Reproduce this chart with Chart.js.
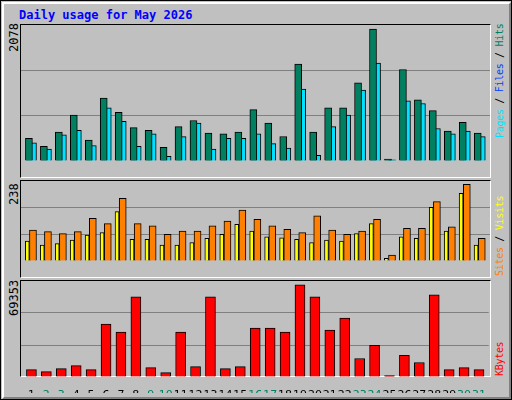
<!DOCTYPE html>
<html><head><meta charset="utf-8">
<script src="https://cdn.jsdelivr.net/npm/chart.js@4"></script>
<style>
html,body{margin:0;padding:0;background:#fff;}
#frame{position:absolute;left:0;top:0;width:510px;height:398px;background:#c0c0c0;border:1px solid #000;}
#bev{position:absolute;left:1px;top:1px;width:505px;height:393px;border-left:2px solid #fff;border-top:2px solid #fff;border-right:2px solid #808080;border-bottom:2px solid #808080;}
.panel{position:absolute;left:20px;width:469px;border-top:1px solid #000;border-left:1px solid #000;border-right:1px solid #fff;border-bottom:1px solid #fff;}
canvas{position:absolute;}
.t{position:absolute;white-space:nowrap;font-family:"DejaVu Sans Mono",monospace;font-size:12px;}
.v{transform-origin:0 0;transform:rotate(-90deg);}
.r{font-size:10px;letter-spacing:-0.3px;}
</style></head><body>
<div id="frame"><div id="bev"></div></div>
<div class="t" style="left:19px;top:8px;color:#0000ff;font-weight:bold;font-size:12px;">Daily usage for May 2026</div>
<div class="panel" style="top:24px;height:152px;"></div>
<div class="panel" style="top:180px;height:96px;"></div>
<div class="panel" style="top:280px;height:95px;"></div>
<canvas id="c1" width="469" height="152" style="left:21px;top:25px;"></canvas>
<canvas id="c2" width="469" height="96" style="left:21px;top:181px;"></canvas>
<canvas id="c3" width="469" height="112" style="left:21px;top:281px;"></canvas>
<div class="t v" style="left:7px;top:52px;">2078</div>
<div class="t v" style="left:7px;top:205px;">238</div>
<div class="t v" style="left:7px;top:316px;">69353</div>
<div class="t v r" style="left:494px;top:138px;"><span style="color:#00e0ff">Pages</span> / <span style="color:#0040ff">Files</span> / <span style="color:#008060">Hits</span></div>
<div class="t v r" style="left:494px;top:276px;"><span style="color:#ff8000">Sites</span> / <span style="color:#ffff00">Visits</span></div>
<div class="t v r" style="left:494px;top:376px;color:#ff0000">KBytes</div>
<script>
const days=[1,2,3,4,5,6,7,8,9,10,11,12,13,14,15,16,17,18,19,20,21,22,23,24,25,26,27,28,29,30,31];
const weekend=[2,3,9,10,16,17,23,24,30,31];
const hits=[357,230,456,724,329,992,766,527,484,216,541,639,442,428,456,809,597,386,1528,456,837,837,1232,2078,30,1443,964,794,470,611,442];
const files=[287,188,414,484,244,837,625,230,428,75,385,597,188,357,357,428,273,202,1133,89,541,724,1119,1542,19,950,907,512,428,470,385];
const pages=[75,61,61,75,103,174,132,216,75,61,160,47,244,61,103,103,188,160,160,230,75,202,61,75,0,75,61,230,61,89,47];
const sites=[62,49,54,65,80,88,153,67,67,49,49,57,70,83,114,93,75,72,67,57,65,62,85,116,8,75,70,166,93,210,49];
const visits=[96,91,85,91,132,116,194,116,109,83,93,93,109,124,158,129,109,98,88,140,96,83,93,129,18,101,101,184,106,238,70];
const kbytes=[5568,4050,6328,8605,5568,39737,33662,60238,7087,3290,33662,7846,60238,6328,7846,36700,36700,33662,69353,60238,35181,44293,13921,23791,1000,16198,10883,61756,5568,7087,5568];
const maxHits=2144, maxVisits=248, maxKB=72140;

const pts=(arr,off)=>arr.map((v,i)=>({x:days[i]+off,y:v}));
const ds=(arr,off,color,w)=>({data:pts(arr,off),backgroundColor:color,borderColor:'#000',borderWidth:1,barThickness:w,grouped:false,borderSkipped:'bottom'});
function opts(ymax,showX){
  return {responsive:false,animation:false,devicePixelRatio:1,
    layout:{padding:0},
    plugins:{legend:{display:false},tooltip:{enabled:false}},
    scales:{
      x:{type:'linear',min:0.3,max:31.65,offset:false,display:showX,
        grid:{display:false},border:{display:false},
        afterFit:s=>{s.height=16;},
        ticks:{padding:4,stepSize:1,autoSkip:false,maxRotation:0,includeBounds:false,
          font:{family:'DejaVu Sans',size:11},
          callback:(v)=>Number.isInteger(v)?String(v):'',
          color:c=>weekend.includes(c.tick.value)?'#008060':'#000'}},
      y:{min:0,max:ymax,display:true,
        afterFit:s=>{s.width=0;},
        ticks:{display:false,stepSize:ymax/3},
        border:{display:false},
        grid:{drawTicks:false,lineWidth:1,color:c=>(c.index===1||c.index===2)?'#808080':'rgba(0,0,0,0)'}}
    }};
}
new Chart(document.getElementById('c1'),{type:'bar',data:{datasets:[
  ds(hits,-0.17,'#008060',7),ds(files,0.1,'#00e0ff',7),ds(pages,-0.23,'#0040ff',2)]},options:opts(maxHits,false)});
new Chart(document.getElementById('c2'),{type:'bar',data:{datasets:[
  ds(sites,-0.28,'#ffff00',4),ds(visits,0.1,'#ff8000',7)]},options:opts(maxVisits,false)});
new Chart(document.getElementById('c3'),{type:'bar',data:{datasets:[
  ds(kbytes,0,'#ff0000',10)]},options:opts(maxKB,true)});
</script></body></html>
